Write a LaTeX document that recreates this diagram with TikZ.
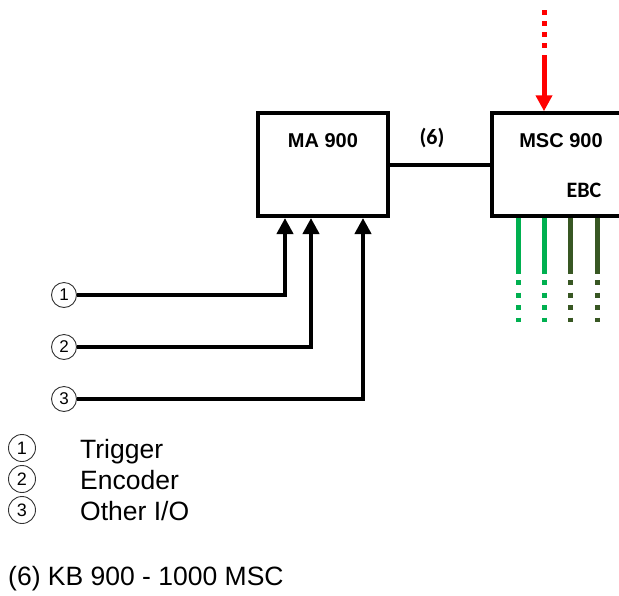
\documentclass[tikz,border=0pt]{standalone}
\usepackage{fontspec}
\setmainfont{Liberation Sans}
\newfontfamily\calfont{Carlito}
\usetikzlibrary{arrows.meta}
\definecolor{brightgreen}{RGB}{0,176,80}
\definecolor{darkgreen}{RGB}{56,87,35}
\definecolor{arrowred}{RGB}{255,0,0}
\begin{document}
\begin{tikzpicture}[x=1pt,y=-1pt,
  box/.style={draw, line width=3.5pt, inner sep=0pt, minimum height=103pt},
  boxlabel/.style={font=\fontsize{20}{20}\selectfont\bfseries, inner sep=0pt, anchor=base},
  callabel/.style={font=\calfont\fontsize{22}{22}\selectfont\bfseries, inner sep=0pt, anchor=base},
  conn/.style={line width=4pt},
  inarrow/.style={line width=4pt, -{Triangle[length=16pt,width=16pt]}},
  reddots/.style={arrowred, line width=5pt, dash pattern=on 5pt off 6pt},
  redarrow/.style={arrowred, line width=5pt, -{Triangle[length=16pt,width=16pt]}},
  gsolid/.style={line width=5pt},
  gdots/.style={line width=5pt, dash pattern=on 5pt off 7.5pt},
  numcirc/.style={circle, draw=black!80, line width=0.9pt, minimum size=25pt, inner sep=0pt, font=\fontsize{17}{17}\selectfont},
  legcirc/.style={numcirc, minimum size=27pt, font=\fontsize{18}{18}\selectfont},
  legtext/.style={font=\fontsize{26.5}{30}\selectfont, inner sep=0pt, anchor=base west}
]
\clip (0,0) rectangle (619,595);

% boxes
\node[box, minimum width=130pt] (ma) at (323,164.5) {};
\node[boxlabel] (malabel) at (323,147) {MA 900};
\node[box, minimum width=208pt] (msc) at (596,164.5) {};
\node[boxlabel] (msclabel) at (561,147) {MSC 900};
\node[callabel] (ebc) at (584,197) {EBC};
\node[callabel] (six) at (432,144) {(6)};

% connection (6)
\draw[conn] (ma.east) -- (msc.west);

% red incoming arrow
\coordinate (rtop) at (544,10);
\coordinate (rmid) at (544,49);
\coordinate (rsolid) at (544,55);
\draw[reddots] (rtop) -- (rmid);
\draw[redarrow] (rsolid) -- (rsolid |- msc.north);

% green outputs
\foreach \x/\c in {518/brightgreen, 544/brightgreen, 570/darkgreen, 597/darkgreen}{
  \coordinate (gs) at (\x,274);
  \coordinate (gd1) at (\x,280);
  \coordinate (gd2) at (\x,322);
  \draw[gsolid, \c] (gs |- msc.south) -- (gs);
  \draw[gdots, \c] (gd1) -- (gd2);
}

% inputs
\node[numcirc] (c1) at (64,295) {1};
\node[numcirc] (c2) at (64,347) {2};
\node[numcirc] (c3) at (64,399) {3};
\coordinate (a1) at (285,218);
\coordinate (a2) at (311,218);
\coordinate (a3) at (363,218);
\draw[inarrow] (c1.east) -| (a1);
\draw[inarrow] (c2.east) -| (a2);
\draw[inarrow] (c3.east) -| (a3);

% legend
\node[legcirc] (l1) at (22,448) {1};
\node[legcirc] (l2) at (22,479) {2};
\node[legcirc] (l3) at (22,510) {3};
\node[legtext] (t1) at (80,458) {Trigger};
\node[legtext] (t2) at (80,489) {Encoder};
\node[legtext] (t3) at (80,520) {Other I/O};
\node[legtext] (note) at (8,585) {(6) KB 900 - 1000 MSC};
\end{tikzpicture}
\end{document}
